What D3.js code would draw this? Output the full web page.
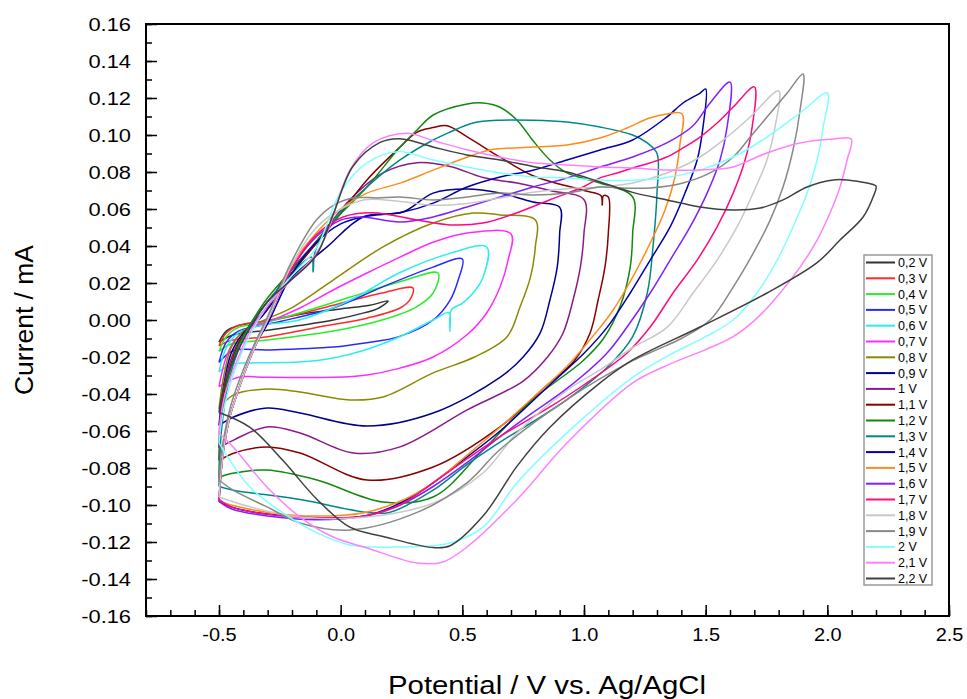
<!DOCTYPE html>
<html><head><meta charset="utf-8">
<script src="https://cdn.jsdelivr.net/npm/d3@7"></script>
<style>body{margin:0;background:#fff}svg{display:block}</style>
</head><body><svg id="c" width="967" height="699"></svg>
<script>
const seriesNames = ["0,2 V","0,3 V","0,4 V","0,5 V","0,6 V","0,7 V","0,8 V","0,9 V","1 V","1,1 V","1,2 V","1,3 V","1,4 V","1,5 V","1,6 V","1,7 V","1,8 V","1,9 V","2 V","2,1 V","2,2 V"];
const seriesColors = ["#333333","#ff2a2a","#2aee2a","#2a2aff","#2aeeee","#ff2aff","#8a8a00","#00008a","#8a1a8a","#880000","#118811","#008888","#0000aa","#ff8c1a","#8020ff","#ff0a80","#c8c8c8","#888888","#80ffff","#ff80ff","#404040"];
const xTickLabels = [-0.5,0.0,0.5,1.0,1.5,2.0,2.5];
const yTickLabels = [-0.16,-0.14,-0.12,-0.10,-0.08,-0.06,-0.04,-0.02,0.00,0.02,0.04,0.06,0.08,0.10,0.12,0.14,0.16];

const c02 = [[-0.5,-0.012],[-0.47,-0.006],[-0.42,-0.003],[-0.33,-0.001],[-0.17,0.003],[0.0,0.006],[0.12,0.008],[0.195,0.0103],[0.15,0.006],[0.1,0.004],[-0.03,0.0],[-0.17,-0.003],[-0.3,-0.0055],[-0.44,-0.008],[-0.5,-0.012]];
const c03 = [[-0.5,-0.014],[-0.47,-0.007],[-0.42,-0.003],[-0.33,-0.001],[-0.24,0.001],[-0.03,0.008],[0.17,0.0146],[0.297,0.0173],[0.285,0.011],[0.244,0.0065],[0.108,0.001],[-0.1,-0.004],[-0.3,-0.009],[-0.45,-0.011],[-0.5,-0.014]];
const c04 = [[-0.5,-0.017],[-0.47,-0.009],[-0.42,-0.004],[-0.33,-0.002],[-0.17,0.0038],[0.04,0.0124],[0.24,0.0205],[0.4,0.0254],[0.38,0.0146],[0.31,0.007],[0.17,0.0],[-0.03,-0.006],[-0.3,-0.0108],[-0.45,-0.013],[-0.5,-0.017]];
const c05 = [[-0.5,-0.023],[-0.47,-0.012],[-0.42,-0.006],[-0.33,-0.003],[-0.24,-0.0005],[-0.03,0.0065],[0.17,0.0178],[0.38,0.0286],[0.5,0.033],[0.483,0.0216],[0.45,0.0108],[0.38,0.0],[0.24,-0.009],[0.1,-0.0124],[-0.03,-0.0146],[-0.3,-0.0162],[-0.44,-0.0165],[-0.5,-0.023]];
const c06 = [[-0.5,-0.028],[-0.47,-0.015],[-0.42,-0.007],[-0.33,-0.003],[-0.17,0.0],[0.04,0.0108],[0.24,0.0254],[0.45,0.036],[0.6,0.0395],[0.585,0.023],[0.544,0.0146],[0.5,0.009],[0.455,0.0055],[0.449,-0.006],[0.445,0.004],[0.38,0.0],[0.24,-0.0092],[0.1,-0.0162],[-0.03,-0.0205],[-0.17,-0.0227],[-0.37,-0.0232],[-0.45,-0.024],[-0.5,-0.028]];
const c07 = [[-0.5,-0.036],[-0.47,-0.02],[-0.43,-0.01],[-0.37,-0.004],[-0.3,-0.001],[-0.167,0.0065],[-0.031,0.0162],[0.108,0.0254],[0.244,0.034],[0.38,0.042],[0.52,0.047],[0.7,0.0465],[0.688,0.0324],[0.655,0.0178],[0.6,0.0038],[0.519,-0.008],[0.38,-0.02],[0.244,-0.026],[0.108,-0.0297],[-0.03,-0.031],[-0.3,-0.031],[-0.42,-0.031],[-0.5,-0.036]];
const c08 = [[-0.5,-0.048],[-0.48,-0.03],[-0.45,-0.015],[-0.4,-0.006],[-0.33,-0.001],[-0.196,0.007],[-0.031,0.0216],[0.174,0.0395],[0.38,0.0524],[0.544,0.0578],[0.655,0.0568],[0.8,0.054],[0.8,0.0395],[0.78,0.0232],[0.737,0.007],[0.684,-0.009],[0.55,-0.02],[0.38,-0.0286],[0.174,-0.0416],[0.038,-0.0432],[-0.167,-0.0389],[-0.303,-0.0373],[-0.44,-0.0405],[-0.5,-0.048]];
const c09 = [[-0.5,-0.057],[-0.48,-0.035],[-0.45,-0.018],[-0.4,-0.007],[-0.33,0.001],[-0.2,0.023],[-0.056,0.0395],[0.092,0.0557],[0.256,0.0584],[0.38,0.0686],[0.52,0.0708],[0.655,0.0686],[0.79,0.0638],[0.9,0.061],[0.9,0.047],[0.89,0.0286],[0.86,0.0108],[0.82,-0.007],[0.75,-0.02],[0.655,-0.031],[0.38,-0.0503],[0.108,-0.0573],[-0.167,-0.0503],[-0.303,-0.0476],[-0.44,-0.0524],[-0.5,-0.057]];
const c10 = [[-0.5,-0.069],[-0.49,-0.045],[-0.46,-0.025],[-0.42,-0.012],[-0.37,-0.003],[-0.3,0.007],[-0.237,0.0216],[-0.097,0.043],[0.038,0.065],[0.174,0.0795],[0.314,0.085],[0.45,0.083],[0.585,0.077],[0.725,0.074],[0.86,0.07],[1.0,0.065],[1.0,0.047],[0.985,0.0286],[0.955,0.0108],[0.914,-0.007],[0.85,-0.02],[0.75,-0.033],[0.52,-0.0486],[0.244,-0.0686],[0.052,-0.0719],[-0.167,-0.0611],[-0.303,-0.0578],[-0.44,-0.0649],[-0.5,-0.069]];
const c11 = [[-0.5,-0.076],[-0.49,-0.05],[-0.46,-0.028],[-0.42,-0.013],[-0.37,-0.002],[-0.3,0.01],[-0.167,0.0308],[-0.031,0.0524],[0.108,0.0757],[0.244,0.0935],[0.314,0.1016],[0.38,0.104],[0.437,0.105],[0.52,0.099],[0.655,0.088],[0.79,0.078],[1.0,0.07],[1.07,0.0672],[1.075,0.062],[1.08,0.0672],[1.1,0.0665],[1.1,0.047],[1.086,0.0286],[1.058,0.0108],[1.025,-0.007],[0.96,-0.022],[0.85,-0.035],[0.655,-0.0578],[0.38,-0.0795],[0.108,-0.0865],[-0.167,-0.0719],[-0.303,-0.0686],[-0.44,-0.072],[-0.5,-0.076]];
const c12 = [[-0.5,-0.085],[-0.49,-0.055],[-0.46,-0.03],[-0.42,-0.014],[-0.37,-0.002],[-0.3,0.012],[-0.167,0.032],[-0.031,0.053],[0.108,0.0719],[0.244,0.0935],[0.314,0.1027],[0.38,0.1108],[0.52,0.1168],[0.585,0.1173],[0.655,0.115],[0.725,0.108],[0.79,0.097],[0.86,0.0865],[0.93,0.0795],[1.066,0.074],[1.2,0.0665],[1.2,0.047],[1.19,0.0286],[1.15,0.008],[1.08,-0.01],[0.996,-0.022],[0.79,-0.043],[0.585,-0.0703],[0.38,-0.0957],[0.174,-0.0984],[-0.097,-0.0865],[-0.303,-0.0811],[-0.45,-0.083],[-0.5,-0.085]];
const c13 = [[-0.5,-0.09],[-0.49,-0.06],[-0.46,-0.033],[-0.42,-0.016],[-0.37,-0.003],[-0.3,0.01],[-0.2,0.025],[-0.12,0.034],[-0.113,0.026],[-0.105,0.037],[-0.031,0.054],[0.108,0.0719],[0.244,0.0865],[0.38,0.0973],[0.45,0.1016],[0.544,0.1065],[0.655,0.108],[0.79,0.108],[0.93,0.107],[1.066,0.1043],[1.2,0.1],[1.26,0.0957],[1.3,0.09],[1.3,0.0686],[1.285,0.0416],[1.26,0.0146],[1.2,-0.009],[1.1,-0.025],[0.93,-0.043],[0.79,-0.055],[0.655,-0.066],[0.52,-0.078],[0.38,-0.092],[0.2,-0.104],[0.108,-0.104],[-0.167,-0.097],[-0.44,-0.092],[-0.5,-0.09]];
const c14 = [[-0.5,-0.098],[-0.49,-0.08],[-0.475,-0.065],[-0.455,-0.052],[-0.426,-0.04],[-0.385,-0.025],[-0.344,-0.012],[-0.3,-0.002],[-0.2,0.025],[-0.1,0.042],[0.0,0.052],[0.092,0.0557],[0.256,0.0584],[0.38,0.0632],[0.52,0.0719],[0.655,0.0773],[0.79,0.081],[0.93,0.0865],[1.066,0.0919],[1.2,0.0973],[1.34,0.1097],[1.407,0.1173],[1.477,0.1227],[1.5,0.1249],[1.489,0.1043],[1.465,0.0865],[1.415,0.0686],[1.354,0.0503],[1.272,0.0324],[1.19,0.0146],[1.095,-0.004],[1.0,-0.018],[0.86,-0.035],[0.655,-0.06],[0.52,-0.074],[0.38,-0.088],[0.244,-0.099],[0.1,-0.106],[-0.05,-0.107],[-0.2,-0.106],[-0.35,-0.104],[-0.45,-0.101],[-0.5,-0.098]];
const c15 = [[-0.5,-0.098],[-0.49,-0.08],[-0.475,-0.065],[-0.455,-0.052],[-0.426,-0.04],[-0.385,-0.025],[-0.344,-0.012],[-0.3,0.0],[-0.2,0.03],[-0.1,0.047],[0.0,0.06],[0.108,0.0686],[0.244,0.074],[0.38,0.081],[0.519,0.088],[0.614,0.0919],[0.79,0.0935],[0.93,0.0946],[1.066,0.0984],[1.177,0.1038],[1.27,0.1092],[1.34,0.1114],[1.403,0.1114],[1.395,0.0957],[1.374,0.0773],[1.333,0.0595],[1.272,0.0416],[1.2,0.0232],[1.12,0.0054],[1.066,-0.004],[0.93,-0.025],[0.79,-0.042],[0.655,-0.058],[0.52,-0.073],[0.38,-0.088],[0.244,-0.098],[0.1,-0.104],[-0.1,-0.106],[-0.3,-0.104],[-0.45,-0.1],[-0.5,-0.098]];
const c16 = [[-0.5,-0.098],[-0.49,-0.08],[-0.475,-0.065],[-0.455,-0.052],[-0.426,-0.04],[-0.385,-0.025],[-0.344,-0.012],[-0.3,0.0],[-0.2,0.028],[-0.1,0.045],[0.0,0.054],[0.08,0.0557],[0.244,0.053],[0.38,0.0557],[0.519,0.0611],[0.655,0.0665],[0.79,0.0719],[0.93,0.0768],[1.066,0.0827],[1.2,0.0881],[1.34,0.0957],[1.448,0.105],[1.518,0.1173],[1.6,0.1286],[1.588,0.1043],[1.559,0.0865],[1.506,0.0686],[1.436,0.0503],[1.354,0.0324],[1.272,0.0146],[1.177,-0.0038],[1.095,-0.0178],[0.93,-0.037],[0.79,-0.05],[0.655,-0.063],[0.52,-0.077],[0.38,-0.09],[0.244,-0.1],[0.1,-0.106],[-0.1,-0.108],[-0.3,-0.106],[-0.45,-0.102],[-0.5,-0.098]];
const c17 = [[-0.5,-0.097],[-0.49,-0.08],[-0.475,-0.065],[-0.455,-0.052],[-0.426,-0.04],[-0.385,-0.025],[-0.344,-0.012],[-0.3,0.0],[-0.2,0.028],[-0.1,0.046],[0.01,0.0557],[0.133,0.058],[0.314,0.054],[0.45,0.0514],[0.585,0.0524],[0.725,0.058],[0.86,0.065],[0.996,0.0719],[1.066,0.0768],[1.136,0.0795],[1.2,0.0822],[1.27,0.0849],[1.34,0.0881],[1.407,0.093],[1.477,0.0989],[1.547,0.1065],[1.613,0.1151],[1.7,0.126],[1.691,0.1043],[1.662,0.0865],[1.613,0.0686],[1.547,0.0503],[1.465,0.0324],[1.366,0.0146],[1.272,-0.0038],[1.177,-0.0178],[1.0,-0.035],[0.86,-0.047],[0.655,-0.063],[0.52,-0.075],[0.38,-0.088],[0.244,-0.1],[0.1,-0.106],[-0.1,-0.107],[-0.3,-0.105],[-0.45,-0.101],[-0.5,-0.097]];
const c18 = [[-0.5,-0.0957],[-0.49,-0.08],[-0.475,-0.065],[-0.455,-0.052],[-0.426,-0.04],[-0.385,-0.025],[-0.344,-0.012],[-0.3,0.0],[-0.2,0.03],[-0.1,0.05],[0.0,0.06],[0.1,0.065],[0.244,0.064],[0.38,0.062],[0.52,0.063],[0.655,0.066],[0.79,0.069],[0.93,0.071],[1.066,0.0719],[1.2,0.0741],[1.341,0.0795],[1.477,0.0881],[1.588,0.0989],[1.683,0.1097],[1.8,0.1238],[1.785,0.1043],[1.752,0.0865],[1.695,0.0686],[1.629,0.0503],[1.547,0.0324],[1.448,0.0146],[1.341,-0.004],[1.2,-0.015],[1.066,-0.027],[0.93,-0.038],[0.725,-0.061],[0.585,-0.0827],[0.38,-0.099],[0.108,-0.1065],[-0.167,-0.1065],[-0.373,-0.101],[-0.5,-0.0957]];
const c19 = [[-0.5,-0.0865],[-0.49,-0.072],[-0.475,-0.06],[-0.455,-0.048],[-0.426,-0.036],[-0.385,-0.022],[-0.344,-0.01],[-0.3,0.002],[-0.2,0.032],[-0.1,0.054],[-0.03,0.062],[0.05,0.066],[0.15,0.066],[0.244,0.0665],[0.38,0.0649],[0.52,0.0665],[0.655,0.0686],[0.79,0.0676],[0.93,0.0686],[1.066,0.0719],[1.136,0.0714],[1.272,0.0714],[1.407,0.0741],[1.518,0.0795],[1.613,0.0881],[1.683,0.0989],[1.752,0.1097],[1.835,0.1227],[1.9,0.133],[1.888,0.1135],[1.859,0.0919],[1.818,0.0719],[1.765,0.054],[1.695,0.036],[1.613,0.0178],[1.518,0.0],[1.4,-0.01],[1.3,-0.016],[1.2,-0.022],[0.93,-0.043],[0.655,-0.07],[0.519,-0.088],[0.314,-0.104],[0.038,-0.1135],[-0.167,-0.1097],[-0.303,-0.101],[-0.442,-0.092],[-0.5,-0.0865]];
const c20 = [[-0.5,-0.0665],[-0.49,-0.055],[-0.475,-0.045],[-0.45,-0.033],[-0.42,-0.022],[-0.38,-0.01],[-0.3,0.008],[-0.2,0.024],[-0.097,0.0395],[-0.003,0.0686],[0.108,0.0849],[0.232,0.091],[0.38,0.0865],[0.519,0.0827],[0.655,0.0795],[0.79,0.0773],[0.93,0.0768],[1.066,0.0757],[1.2,0.0755],[1.341,0.077],[1.477,0.081],[1.613,0.0881],[1.752,0.0989],[1.888,0.1119],[2.0,0.1227],[1.983,0.1043],[1.958,0.0865],[1.917,0.0686],[1.859,0.0503],[1.794,0.0324],[1.711,0.0146],[1.613,0.0],[1.5,-0.009],[1.35,-0.019],[1.2,-0.031],[0.93,-0.061],[0.725,-0.088],[0.585,-0.112],[0.45,-0.1205],[0.244,-0.1227],[0.038,-0.1216],[-0.097,-0.1151],[-0.237,-0.1043],[-0.373,-0.0903],[-0.5,-0.0665]];
const c21 = [[-0.5,-0.0611],[-0.49,-0.05],[-0.475,-0.04],[-0.45,-0.03],[-0.42,-0.02],[-0.38,-0.008],[-0.3,0.008],[-0.2,0.022],[-0.1,0.036],[-0.056,0.047],[0.038,0.081],[0.133,0.0957],[0.27,0.101],[0.38,0.097],[0.519,0.092],[0.655,0.088],[0.79,0.085],[0.93,0.0838],[1.066,0.0827],[1.2,0.0822],[1.341,0.0811],[1.477,0.0811],[1.613,0.0827],[1.683,0.0865],[1.752,0.0903],[1.888,0.0957],[2.024,0.0978],[2.098,0.0978],[2.081,0.0865],[2.052,0.0719],[2.011,0.0578],[1.958,0.0432],[1.888,0.0286],[1.806,0.0146],[1.711,0.001],[1.613,-0.009],[1.5,-0.016],[1.35,-0.024],[1.2,-0.034],[0.93,-0.0665],[0.725,-0.097],[0.519,-0.1227],[0.42,-0.1308],[0.314,-0.1314],[0.108,-0.1232],[-0.031,-0.1173],[-0.167,-0.1065],[-0.303,-0.0903],[-0.442,-0.0686],[-0.5,-0.0611]];
const c22 = [[-0.5,-0.05],[-0.49,-0.042],[-0.475,-0.034],[-0.45,-0.025],[-0.42,-0.016],[-0.38,-0.006],[-0.3,0.01],[-0.2,0.022],[-0.1,0.035],[-0.031,0.057],[0.05,0.083],[0.162,0.096],[0.244,0.098],[0.38,0.0935],[0.519,0.0892],[0.655,0.0865],[0.79,0.083],[0.93,0.08],[1.066,0.0746],[1.2,0.069],[1.341,0.0649],[1.477,0.0611],[1.613,0.0595],[1.724,0.0605],[1.818,0.0649],[1.917,0.0719],[2.024,0.0757],[2.081,0.0757],[2.163,0.074],[2.2,0.0724],[2.188,0.0665],[2.147,0.0557],[2.052,0.0432],[1.958,0.031],[1.752,0.0146],[1.477,-0.0038],[1.2,-0.0216],[1.066,-0.034],[0.86,-0.058],[0.725,-0.079],[0.585,-0.106],[0.45,-0.122],[0.38,-0.123],[0.174,-0.117],[0.038,-0.112],[-0.097,-0.097],[-0.237,-0.076],[-0.373,-0.058],[-0.5,-0.05]];
const seriesData = [c02,c03,c04,c05,c06,c07,c08,c09,c10,c11,c12,c13,c14,c15,c16,c17,c18,c19,c20,c21,c22];

const svg = d3.select("#c");
const FONT = "'Liberation Sans', Arial, sans-serif";
const L = 146, R = 949, T = 24, B = 616;
const x = d3.scaleLinear().domain([-0.8, 2.5]).range([L, R]);
const y = d3.scaleLinear().domain([-0.16, 0.16]).range([B, T]);
const hy = f => d => f(d).replace("\u2212", "-");

function stretch(sel, k) {
  sel.each(function () {
    const w = this.getComputedTextLength();
    d3.select(this).attr("textLength", w * k).attr("lengthAdjust", "spacingAndGlyphs");
  });
}

// curves
const line = d3.line().x(d => x(d[0])).y(d => y(d[1])).curve(d3.curveCatmullRom.alpha(0.5));
const plot = svg.append("g");
seriesData.forEach((s, i) => {
  plot.append("path").attr("d", line(s)).attr("fill", "none")
    .attr("stroke", seriesColors[i]).attr("stroke-width", 1.5).attr("stroke-linejoin", "round");
});

// axes
const minorX = d3.range(-8, 26).map(v => v / 10);
const minorY = d3.range(-16, 17).map(v => v / 100);
svg.append("g").attr("transform", `translate(0,${B})`)
  .call(d3.axisBottom(x).tickValues(minorX).tickSize(-6).tickFormat(""))
  .call(g => g.select(".domain").remove())
  .selectAll("line").attr("stroke", "#000").attr("stroke-width", 1.5);
svg.append("g").attr("transform", `translate(0,${B})`)
  .call(d3.axisBottom(x).tickValues(xTickLabels).tickSize(-11).tickPadding(12).tickFormat(hy(d3.format(".1f"))))
  .call(g => g.select(".domain").remove())
  .call(g => g.selectAll("line").attr("stroke", "#000").attr("stroke-width", 1.5))
  .call(g => g.selectAll("text").attr("font-family", FONT).attr("font-size", 19).attr("fill", "#000").call(stretch, 1.05));
svg.append("g").attr("transform", `translate(${L},0)`)
  .call(d3.axisLeft(y).tickValues(minorY).tickSize(-6).tickFormat(""))
  .call(g => g.select(".domain").remove())
  .selectAll("line").attr("stroke", "#000").attr("stroke-width", 1.5);
svg.append("g").attr("transform", `translate(${L},0)`)
  .call(d3.axisLeft(y).tickValues(yTickLabels).tickSize(-11).tickPadding(15).tickFormat(hy(d3.format(".2f"))))
  .call(g => g.select(".domain").remove())
  .call(g => g.selectAll("line").attr("stroke", "#000").attr("stroke-width", 1.5))
  .call(g => g.selectAll("text").attr("font-family", FONT).attr("font-size", 19).attr("fill", "#000").call(stretch, 1.15));

svg.append("rect").attr("x", L).attr("y", T).attr("width", R - L).attr("height", B - T)
  .attr("fill", "none").attr("stroke", "#000").attr("stroke-width", 2);

// titles
svg.append("text").attr("x", 547).attr("y", 694).attr("text-anchor", "middle")
  .attr("font-family", FONT).attr("font-size", 25)
  .attr("textLength", 318).attr("lengthAdjust", "spacingAndGlyphs")
  .text("Potential / V vs. Ag/AgCl");
svg.append("text").attr("transform", "translate(33,320) rotate(-90)").attr("text-anchor", "middle")
  .attr("font-family", FONT).attr("font-size", 25)
  .attr("textLength", 150).attr("lengthAdjust", "spacingAndGlyphs")
  .text("Current / mA");

// legend
const lg = svg.append("g");
lg.append("rect").attr("x", 864).attr("y", 255).attr("width", 68).attr("height", 330)
  .attr("fill", "#fff").attr("stroke", "#999").attr("stroke-width", 1.5);
seriesNames.forEach((n, i) => {
  const yy = 262.5 + i * 15.8;
  lg.append("line").attr("x1", 866).attr("x2", 895).attr("y1", yy).attr("y2", yy)
    .attr("stroke", seriesColors[i]).attr("stroke-width", 2);
  lg.append("text").attr("x", 898).attr("y", yy + 4.5).attr("font-family", FONT)
    .attr("font-size", 12.5).text(n);
});
</script></body></html>
